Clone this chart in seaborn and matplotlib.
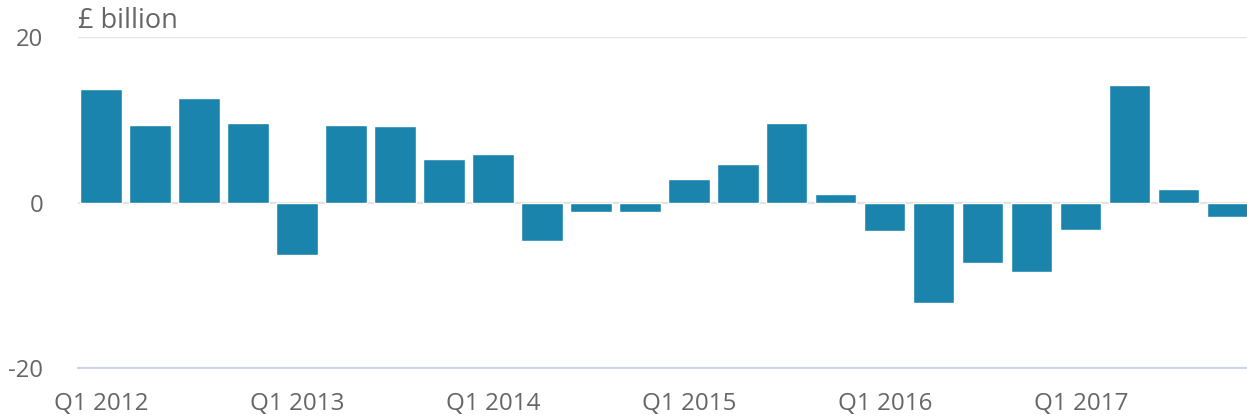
import numpy as np
import pandas as pd
import matplotlib.pyplot as plt
import seaborn as sns

years = ['2012', '2013', '2014', '2015', '2016', '2017']
quarters = [f'Q{q} {y}' for y in years for q in range(1, 5)]
values = [13.7, 9.4, 12.6, 9.6,
          -6.3, 9.4, 9.2, 5.2,
          5.9, -4.6, -1.1, -1.1,
          2.9, 4.6, 9.6, 1.0,
          -3.5, -12.2, -7.3, -8.4,
          -3.3, 14.2, 1.6, -1.8]
y_ticks = [-20, 0, 20]

df = pd.DataFrame({'quarter': quarters, 'value': values})

sns.set_style('white')
plt.rcParams['font.family'] = ['Open Sans', 'DejaVu Sans']
plt.rcParams['axes.unicode_minus'] = False

fig = plt.figure(figsize=(12.47, 4.18), dpi=100)
ax = fig.add_axes([0.0625, 0.1196, 0.9375, 0.7919])

sns.barplot(data=df, x='quarter', y='value', order=quarters, color='#1a84ad',
            saturation=1, width=0.84, ax=ax)

ax.set_ylim(-20, 20)
ax.set_xlim(-0.47, 23.39)
ax.set_yticks(y_ticks)
ax.yaxis.grid(True, color='#e3e3e3', linewidth=1.6)
ax.set_axisbelow(True)

q1_pos = list(range(0, len(quarters), 4))
ax.set_xticks(q1_pos)
ax.set_xticklabels([quarters[i] for i in q1_pos])

for side in ['top', 'right', 'left']:
    ax.spines[side].set_visible(False)
ax.spines['bottom'].set_color('#ccd6eb')
ax.spines['bottom'].set_linewidth(1.5)

ax.tick_params(axis='x', length=14.4, width=1.5, color='#ccd6eb', pad=3,
               labelsize=17.4, labelcolor='#666666')
ax.tick_params(axis='y', length=0, pad=25, labelsize=17.2, labelcolor='#666666')
ax.set_xlabel('')
ax.set_ylabel('')

fig.text(0.0625, 0.95, '£ billion', fontsize=19.5, color='#666666', va='center', ha='left')

fig.savefig('out.png', dpi=100)
